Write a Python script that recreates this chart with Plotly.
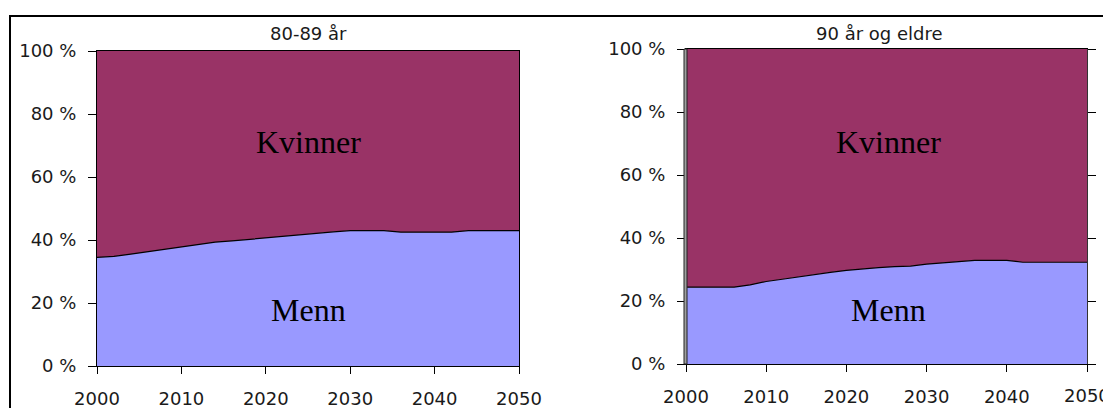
import plotly.graph_objects as go

# Share of men (%) among the elderly, projected 2000-2050
years_80_89 = [2000, 2002, 2004, 2006, 2008, 2010, 2012, 2014, 2016, 2018, 2020,
               2022, 2024, 2026, 2028, 2030, 2032, 2034, 2036, 2040, 2042, 2044, 2050]
menn_80_89 = [34.5, 34.8, 35.5, 36.3, 37.1, 37.7, 38.6, 39.3, 39.7, 40.2, 40.8,
              41.3, 41.8, 42.3, 42.6, 43.0, 43.0, 43.0, 42.5, 42.5, 42.5, 43.0, 43.0]

years_90 = [2000, 2006, 2008, 2010, 2012, 2014, 2016, 2018, 2020, 2022, 2024,
            2026, 2028, 2030, 2032, 2034, 2036, 2038, 2040, 2042, 2050]
menn_90 = [24.4, 24.4, 25.1, 26.2, 26.9, 27.7, 28.4, 29.1, 29.7, 30.2, 30.6,
           30.9, 31.1, 31.7, 32.1, 32.6, 32.9, 32.9, 32.9, 32.3, 32.3]

titles = ["80-89 år", "90 år og eldre"]
x_ticks = [2000, 2010, 2020, 2030, 2040, 2050]
y_ticks = [0, 20, 40, 60, 80, 100]
y_tick_text = [f"{v} %" for v in y_ticks]

MENN_COLOR = "#9999FF"
KVINNER_COLOR = "#993366"

W, H = 1103, 408


def px_x(x):
    return x / W


def px_y(y):
    return 1 - y / H


fig = go.Figure()

panels = [
    (years_80_89, menn_80_89, "x", "y"),
    (years_90, menn_90, "x2", "y2"),
]
for yrs, menn, xa, ya in panels:
    kvinner = [100 - m for m in menn]
    fig.add_trace(go.Scatter(
        x=yrs, y=menn, xaxis=xa, yaxis=ya, stackgroup=ya, mode="lines",
        line=dict(color="black", width=1.2), fillcolor=MENN_COLOR,
        name="Menn", hoverinfo="skip", showlegend=False))
    fig.add_trace(go.Scatter(
        x=yrs, y=kvinner, xaxis=xa, yaxis=ya, stackgroup=ya, mode="lines",
        line=dict(color=KVINNER_COLOR, width=0), fillcolor=KVINNER_COLOR,
        name="Kvinner", hoverinfo="skip", showlegend=False))

tick_font = dict(family="DejaVu Sans", size=18, color="#1a1a1a")

xcommon = dict(range=[2000, 2050], tickvals=x_ticks, ticks="outside", ticklen=7,
               tickcolor="black", showline=True, linecolor="black", linewidth=1,
               mirror=True, showgrid=False, zeroline=False, tickfont=tick_font,
               ticklabelstandoff=9, automargin=False)
ycommon = dict(range=[0, 100], tickvals=y_ticks, ticktext=y_tick_text,
               ticks="outside", ticklen=8, tickcolor="black", showline=True,
               linecolor="black", linewidth=1, mirror=True, showgrid=False,
               zeroline=False, tickfont=tick_font, ticklabelstandoff=8,
               automargin=False)

fig.update_layout(
    width=W, height=H, margin=dict(l=0, r=0, t=0, b=0, autoexpand=False),
    paper_bgcolor="white", plot_bgcolor="white",
    xaxis=dict(domain=[px_x(97), px_x(519)], anchor="y", **xcommon),
    yaxis=dict(domain=[px_y(366), px_y(51)], anchor="x", **ycommon),
    xaxis2=dict(domain=[px_x(686), px_x(1087)], anchor="y2", **xcommon),
    yaxis2=dict(domain=[px_y(364), px_y(49)], anchor="x2",
                **{**ycommon, "mirror": "ticks", "linecolor": "#333333"}),
)

label_font = dict(family="Liberation Serif", size=32, color="black")
annotations = []
for cx, ty, title in [(308, 33, titles[0]), (879, 33, titles[1])]:
    annotations.append(dict(x=px_x(cx), y=px_y(ty), xref="paper", yref="paper",
                            text=title, showarrow=False, xanchor="center",
                            yanchor="middle", font=tick_font))
for cx, ky, my in [(308, 142, 310), (888, 142, 310)]:
    annotations.append(dict(x=px_x(cx), y=px_y(ky), xref="paper", yref="paper",
                            text="Kvinner", showarrow=False, xanchor="center",
                            yanchor="middle", font=label_font))
    annotations.append(dict(x=px_x(cx), y=px_y(my), xref="paper", yref="paper",
                            text="Menn", showarrow=False, xanchor="center",
                            yanchor="middle", font=label_font))
# Last tick label of the second panel runs past the page edge
annotations.append(dict(x=x_ticks[-1], xref="x2", y=px_y(395), yref="paper",
                        text=str(x_ticks[-1]), showarrow=False, xanchor="center",
                        yanchor="middle", font=tick_font))
fig.update_layout(annotations=annotations)

# Outer frame and the shaded left edge of the second panel
fig.update_layout(shapes=[
    dict(type="rect", xref="paper", yref="paper",
         x0=px_x(10), x1=1.02, y0=-0.05, y1=px_y(16),
         line=dict(color="black", width=2), fillcolor="rgba(0,0,0,0)", layer="above"),
    dict(type="rect", xref="paper", yref="paper",
         x0=px_x(684), x1=px_x(687), y0=px_y(364), y1=px_y(49),
         line=dict(color="#222222", width=1), fillcolor="#A0A0A0", layer="above"),
])

fig.write_html("out.html")
